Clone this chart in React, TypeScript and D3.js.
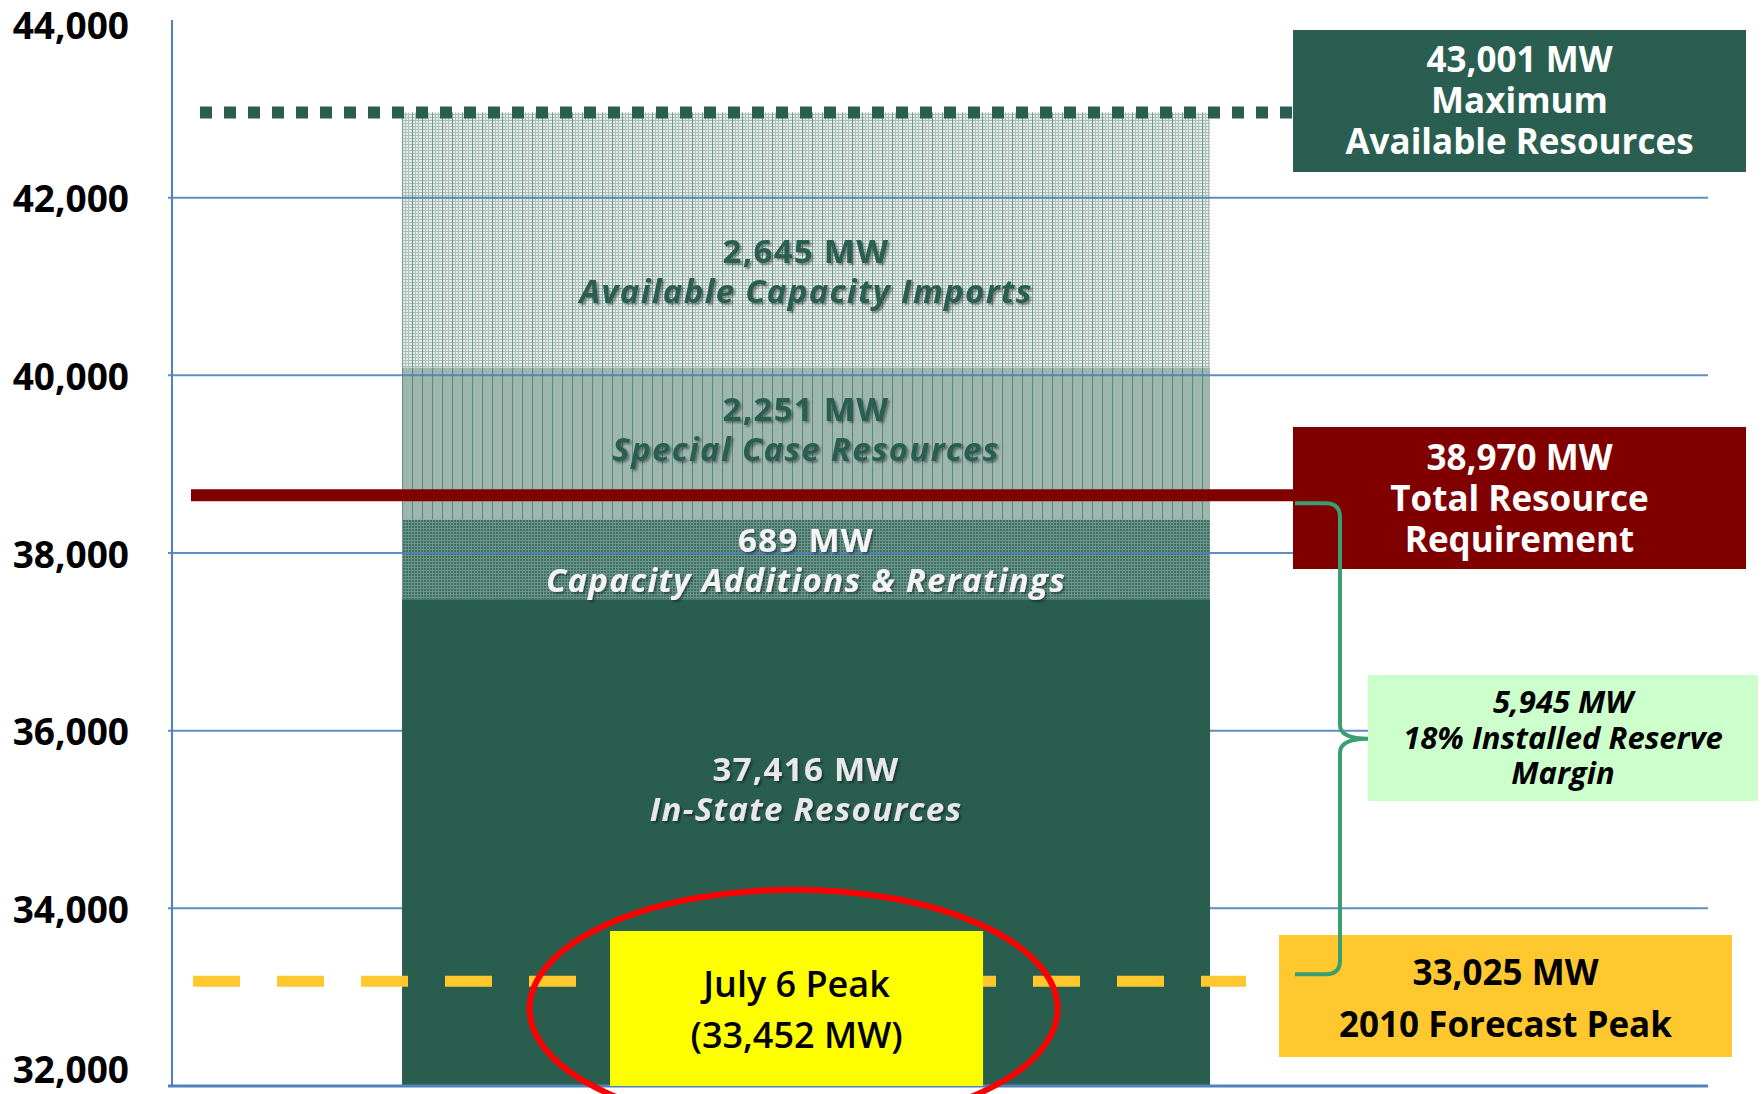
import React, { useRef, useEffect } from "react";
import * as d3 from "d3";

const width = 1764;
const height = 1094;

// y axis ticks (MW)
const yTicks = [32000, 34000, 36000, 38000, 40000, 42000, 44000];
const yTickLabels = ["32,000", "34,000", "36,000", "38,000", "40,000", "42,000", "44,000"];

// single stacked bar, bottom to top
const barName = ["NYCA"];
const segmentKeys = ["instate", "additions", "special", "imports"];
const segmentValues = [37480, 900, 1710, 2870]; // heights as drawn in the picture
const segmentAmounts = ["37,416 MW", "689 MW", "2,251 MW", "2,645 MW"];
const segmentNames = ["In-State Resources", "Capacity Additions & Reratings", "Special Case Resources", "Available Capacity Imports"];
const segmentTextColors = ["#e8e8e8", "#f4f4f4", "#2a5e50", "#2a5e50"];
const segmentLabelShift = [-55, 0, -15, 30];

// reference levels (as drawn)
const maxAvailable = 42960;
const totalRequirement = 38650;
const forecastPeak = 33180;
const julyPeakBoxTop = 33745;
const peakCircleCenter = 32870;

// callout texts
const maxLines = ["43,001 MW", "Maximum", "Available Resources"];
const reqLines = ["38,970 MW", "Total Resource", "Requirement"];
const marginLines = ["5,945 MW", "18% Installed Reserve", "Margin"];
const forecastLines = ["33,025 MW", "2010 Forecast Peak"];
const peakLines = ["July 6 Peak", "(33,452 MW)"];

const FONT = "'Open Sans', 'Noto Sans', sans-serif";
const GREEN = "#2a5e50";
const BLUE = "#4f81bd";

const App = () => {
  const ref = useRef<SVGSVGElement>(null);

  useEffect(() => {
    const svg = d3.select(ref.current);
    svg.selectAll("*").remove();
    svg.attr("width", width).attr("height", height);

    const plotLeft = 172;
    const plotRight = 1708;

    const y = d3.scaleLinear().domain([32000, 44000]).range([1086, 20]);
    const x = d3
      .scaleBand()
      .domain(barName)
      .range([plotLeft, plotRight])
      .paddingInner(0)
      .paddingOuter(0.4505)
      .align(0.316);

    const bx = x(barName[0]) as number;
    const bw = x.bandwidth();

    // patterns + shadow
    const defs = svg.append("defs");
    const pImports = defs
      .append("pattern")
      .attr("id", "imports")
      .attr("patternUnits", "userSpaceOnUse")
      .attr("x", bx)
      .attr("width", 10)
      .attr("height", 3);
    pImports.append("rect").attr("width", 10).attr("height", 3).attr("fill", "#e6ece9");
    pImports.append("rect").attr("width", 10).attr("height", 1).attr("fill", "#a9bfb8");
    [3, 6].forEach(px => pImports.append("rect").attr("x", px).attr("width", 1).attr("height", 3).attr("fill", "#a9bfb8"));
    pImports.append("rect").attr("x", 0).attr("width", 1).attr("height", 3).attr("fill", "#6e9488");

    const pSpecial = defs
      .append("pattern")
      .attr("id", "special")
      .attr("patternUnits", "userSpaceOnUse")
      .attr("x", bx)
      .attr("width", 10)
      .attr("height", 3);
    pSpecial.append("rect").attr("width", 10).attr("height", 3).attr("fill", "#9db7ae");
    pSpecial.append("rect").attr("width", 1).attr("height", 3).attr("fill", "#5a8678");

    const pAdd = defs
      .append("pattern")
      .attr("id", "additions")
      .attr("patternUnits", "userSpaceOnUse")
      .attr("x", bx)
      .attr("width", 3)
      .attr("height", 3);
    pAdd.append("rect").attr("width", 3).attr("height", 3).attr("fill", "#3f6f62");
    pAdd.append("rect").attr("width", 3).attr("height", 1).attr("fill", "#6d968a");
    pAdd.append("rect").attr("width", 1).attr("height", 3).attr("fill", "#6d968a");

    const shadow = defs.append("filter").attr("id", "shadow").attr("x", "-10%").attr("y", "-30%").attr("width", "120%").attr("height", "160%");
    shadow
      .append("feDropShadow")
      .attr("dx", 2)
      .attr("dy", 2)
      .attr("stdDeviation", 1)
      .attr("flood-color", "#000")
      .attr("flood-opacity", 0.4);

    // stack
    const row: any = { name: barName[0] };
    segmentKeys.forEach((k, i) => (row[k] = segmentValues[i]));
    const series = d3.stack().keys(segmentKeys)([row]);
    const fills = ["#295e4f", "url(#additions)", "url(#special)", "url(#imports)"];
    const lo = (v: number) => Math.max(32000, v);

    // upper segments
    svg
      .append("g")
      .selectAll("rect")
      .data(series.slice(1))
      .enter()
      .append("rect")
      .attr("x", bx)
      .attr("width", bw)
      .attr("y", d => y(d[0][1]))
      .attr("height", d => y(d[0][0]) - y(d[0][1]))
      .attr("fill", (d, i) => fills[i + 1]);

    // gridlines
    svg
      .append("g")
      .selectAll("line")
      .data(yTicks.slice(1, -1))
      .enter()
      .append("line")
      .attr("x1", plotLeft - 4)
      .attr("x2", plotRight)
      .attr("y1", d => y(d))
      .attr("y2", d => y(d))
      .attr("stroke", BLUE)
      .attr("stroke-width", 2)
      .attr("opacity", 0.9);

    // in-state segment
    svg
      .append("rect")
      .attr("x", bx)
      .attr("width", bw)
      .attr("y", y(series[0][0][1]))
      .attr("height", y(lo(series[0][0][0])) - y(series[0][0][1]))
      .attr("fill", fills[0]);

    // axis + baseline
    svg
      .append("line")
      .attr("x1", plotLeft)
      .attr("x2", plotLeft)
      .attr("y1", y(44000))
      .attr("y2", y(32000))
      .attr("stroke", BLUE)
      .attr("stroke-width", 2);
    svg
      .append("line")
      .attr("x1", plotLeft - 4)
      .attr("x2", plotRight)
      .attr("y1", y(32000))
      .attr("y2", y(32000))
      .attr("stroke", BLUE)
      .attr("stroke-width", 3);

    // tick labels
    svg
      .append("g")
      .selectAll("text")
      .data(yTicks)
      .enter()
      .append("text")
      .attr("x", 129)
      .attr("y", d => Math.min(1068, Math.max(24, y(d))))
      .attr("text-anchor", "end")
      .attr("dominant-baseline", "central")
      .style("font-family", FONT)
      .style("font-weight", 700)
      .style("font-size", "37px")
      .text((d, i) => yTickLabels[i]);

    // segment labels: one text element, two lines
    series.forEach((s, i) => {
      const cy = (y(lo(s[0][0])) + y(s[0][1])) / 2 + segmentLabelShift[i];
      const cx = bx + bw / 2;
      const t = svg
        .append("text")
        .attr("filter", "url(#shadow)")
        .attr("text-anchor", "middle")
        .attr("dominant-baseline", "central")
        .style("font-family", FONT)
        .style("font-size", "33px")
        .style("font-weight", 700)
        .style("letter-spacing", "1.3px")
        .attr("fill", segmentTextColors[i]);
      t.append("tspan").attr("x", cx).attr("y", cy - 20).text(segmentAmounts[i]);
      t.append("tspan")
        .attr("x", cx)
        .attr("y", cy + 20)
        .style("font-style", "italic")
        .text(segmentNames[i]);
    });

    const boxLeft = 1293;
    const boxRight = 1746;

    // max available dotted line
    svg
      .append("line")
      .attr("x1", 200)
      .attr("x2", boxLeft)
      .attr("y1", y(maxAvailable))
      .attr("y2", y(maxAvailable))
      .attr("stroke", GREEN)
      .attr("stroke-width", 12)
      .attr("stroke-dasharray", "12 12");

    // total requirement line
    svg
      .append("line")
      .attr("x1", 191)
      .attr("x2", boxLeft)
      .attr("y1", y(totalRequirement))
      .attr("y2", y(totalRequirement))
      .attr("stroke", "#800000")
      .attr("stroke-width", 12);

    // forecast peak dashed line
    svg
      .append("line")
      .attr("x1", 193)
      .attr("x2", 1246)
      .attr("y1", y(forecastPeak))
      .attr("y2", y(forecastPeak))
      .attr("stroke", "#ffc82e")
      .attr("stroke-width", 11)
      .attr("stroke-dasharray", "47 37");

    // callout boxes
    const callout = (
      lines: string[],
      x0: number,
      x1: number,
      y0: number,
      y1: number,
      fill: string,
      color: string,
      size: number,
      gap: number,
      weight: number,
      italic: boolean,
      firstY: number
    ) => {
      svg.append("rect").attr("x", x0).attr("y", y0).attr("width", x1 - x0).attr("height", y1 - y0).attr("fill", fill);
      const t = svg
        .append("text")
        .attr("text-anchor", "middle")
        .attr("dominant-baseline", "central")
        .attr("fill", color)
        .style("font-family", FONT)
        .style("font-weight", weight)
        .style("font-style", italic ? "italic" : "normal")
        .style("font-size", size + "px");
      t.selectAll("tspan")
        .data(lines)
        .enter()
        .append("tspan")
        .attr("x", (x0 + x1) / 2)
        .attr("y", (d, i) => firstY + i * gap)
        .text(d => d);
    };

    callout(maxLines, boxLeft, boxRight, 30, 172, GREEN, "#fff", 35, 41, 700, false, 58);
    callout(reqLines, boxLeft, boxRight, 427, 569, "#800000", "#fff", 35, 41, 700, false, 456);
    callout(marginLines, 1368, 1758, 675, 801, "#ccffcc", "#000", 31, 35.5, 700, true, 701);
    callout(forecastLines, 1279, 1732, 935, 1057, "#ffc82f", "#000", 35, 52, 700, false, 971);

    // july peak box
    const px0 = bx + 208;
    const px1 = bx + 581;
    callout(peakLines, px0, px1, y(julyPeakBoxTop), y(32000), "#ffff00", "#000", 36, 51, 600, false, 983);

    // circle around the peak
    svg
      .append("ellipse")
      .attr("cx", (px0 + px1) / 2 - 3)
      .attr("cy", y(peakCircleCenter))
      .attr("rx", 264)
      .attr("ry", 119)
      .attr("fill", "none")
      .attr("stroke", "#ff0000")
      .attr("stroke-width", 6);

    // reserve margin brace, on top of the boxes
    const yTop = y(totalRequirement) + 8;
    const yBot = y(forecastPeak) - 7;
    const yMid = (yTop + yBot) / 2;
    const xs = 1295;
    const xv = 1340;
    const xt = 1368;
    const brace = d3.path();
    brace.moveTo(xs, yTop);
    brace.lineTo(xv - 14, yTop);
    brace.quadraticCurveTo(xv, yTop, xv, yTop + 14);
    brace.lineTo(xv, yMid - 14);
    brace.quadraticCurveTo(xv, yMid, xt, yMid);
    brace.quadraticCurveTo(xv, yMid, xv, yMid + 14);
    brace.lineTo(xv, yBot - 14);
    brace.quadraticCurveTo(xv, yBot, xv - 14, yBot);
    brace.lineTo(xs, yBot);
    svg
      .append("path")
      .attr("d", brace.toString())
      .attr("fill", "none")
      .attr("stroke", "#3a9e6e")
      .attr("stroke-width", 4);
  }, []);

  return (
    <div style={{ position: "absolute", left: 0, top: 0, background: "#fff" }}>
      <svg ref={ref} style={{ display: "block" }} />
    </div>
  );
};

export default App;
